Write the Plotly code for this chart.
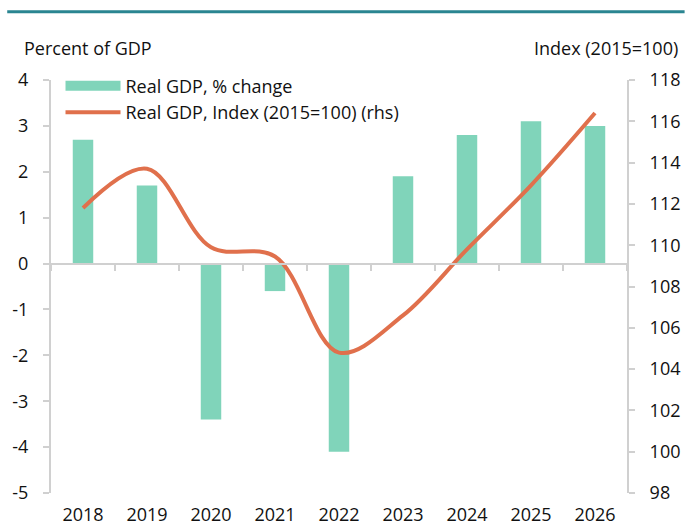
import plotly.graph_objects as go

years = ["2018", "2019", "2020", "2021", "2022", "2023", "2024", "2025", "2026"]
gdp_change = [2.7, 1.7, -3.4, -0.6, -4.1, 1.9, 2.8, 3.1, 3.0]
gdp_index = [111.8, 113.7, 109.9, 109.45, 104.8, 106.6, 109.8, 112.9, 116.4]
left_ticks = [4, 3, 2, 1, 0, -1, -2, -3, -4, -5]
left_labels = ["4", "3", "2", "1", "0", "-1", "-2", "-3", "-4", "-5"]

FONT = "Open Sans"
FS = 18
AXIS_GREY = "#d0d0d0"
BAR_COLOR = "#80D4BA"
LINE_COLOR = "#E0704C"

fig = go.Figure()
fig.add_trace(go.Bar(
    x=years, y=gdp_change, name="Real GDP, % change", showlegend=False,
    marker=dict(color=BAR_COLOR, line=dict(width=0)), width=0.32,
    xaxis="x", yaxis="y",
))
# legend-only entry with a wide swatch for the bars
fig.add_trace(go.Scatter(
    x=years, y=[None] * len(years), name="Real GDP, % change",
    mode="lines", line=dict(color=BAR_COLOR, width=14), hoverinfo="skip",
    xaxis="x", yaxis="y",
))
fig.add_trace(go.Scatter(
    x=years, y=gdp_index, name="Real GDP, Index (2015=100) (rhs)",
    mode="lines", line=dict(color=LINE_COLOR, width=4, shape="spline", smoothing=1.0),
    xaxis="x", yaxis="y2",
))
# invisible trace to carry the zero-line axis with boundary ticks
fig.add_trace(go.Scatter(
    x=years, y=[None] * len(years), showlegend=False, hoverinfo="skip",
    xaxis="x3", yaxis="y",
))

fig.update_layout(
    width=685, height=527,
    margin=dict(l=51, r=58, t=80, b=34),
    paper_bgcolor="white", plot_bgcolor="white",
    font=dict(family=FONT, size=FS, color="#111111"),
    showlegend=True,
    legend=dict(x=0.0165, y=1.03, xanchor="left", yanchor="top",
                bgcolor="rgba(0,0,0,0)", font=dict(size=FS, family=FONT),
                tracegroupgap=0, itemwidth=55),
    xaxis=dict(type="category", categoryorder="array", categoryarray=years,
               range=[-0.5, 8.5], showline=False, ticks="", showgrid=False,
               tickfont=dict(size=FS), ticklabelstandoff=9, automargin=False),
    xaxis3=dict(type="category", categoryorder="array", categoryarray=years,
                range=[-0.5, 8.5], overlaying="x", anchor="free", position=5/9,
                showline=True, linecolor=AXIS_GREY, linewidth=2,
                ticks="outside", tickson="boundaries", ticklen=6, tickwidth=2,
                tickcolor=AXIS_GREY, showticklabels=False, showgrid=False,
                automargin=False),
    yaxis=dict(range=[-5, 4], tickvals=left_ticks, ticktext=left_labels,
               showgrid=False, zeroline=False,
               showline=True, linecolor=AXIS_GREY, linewidth=2,
               ticks="outside", ticklen=6, tickwidth=2, tickcolor=AXIS_GREY,
               tickfont=dict(size=FS), ticklabelstandoff=11,
               domain=[0, 1], automargin=False),
    yaxis2=dict(range=[98, 118], dtick=2, overlaying="y", side="right",
                showgrid=False, zeroline=False,
                showline=True, linecolor=AXIS_GREY, linewidth=2,
                ticks="outside", ticklen=6, tickwidth=2, tickcolor=AXIS_GREY,
                tickfont=dict(size=FS), ticklabelstandoff=11, automargin=False),
    shapes=[dict(type="line", xref="paper", yref="paper",
                 x0=-0.076, x1=1.10, y0=1.165, y1=1.165,
                 line=dict(color="#2A8591", width=3))],
    annotations=[
        dict(text="Percent of GDP", xref="paper", yref="paper", x=-0.0503, y=1.077,
             xanchor="left", yanchor="middle", showarrow=False, font=dict(size=FS)),
        dict(text="Index (2015=100)", xref="paper", yref="paper", x=1.092, y=1.077,
             xanchor="right", yanchor="middle", showarrow=False, font=dict(size=FS)),
    ],
)

fig.write_html("out.html", config={"displayModeBar": False},
               post_script="document.body.style.margin='0';")
